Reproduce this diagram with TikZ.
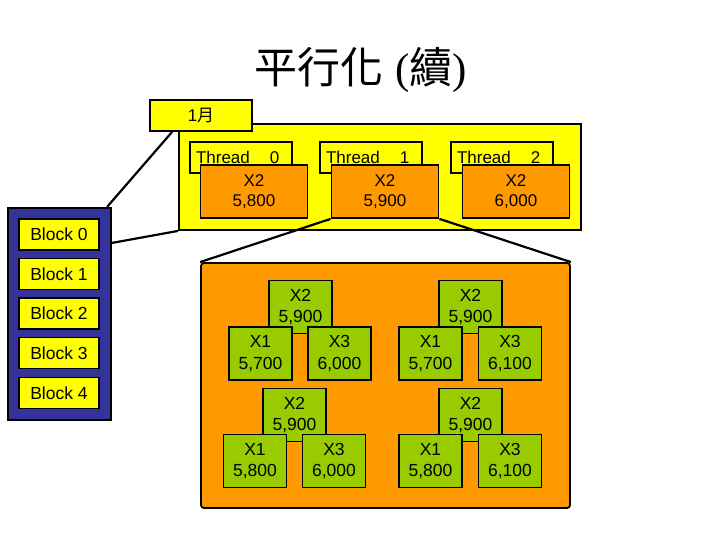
\documentclass[tikz,border=0pt]{standalone}
\usepackage{fontspec}
\setmainfont{Liberation Sans}
\newfontfamily\cjk{Noto Sans CJK TC}
\newfontfamily\serifpar{Liberation Serif}
\definecolor{yel}{RGB}{255,255,0}
\definecolor{org}{RGB}{255,153,0}
\definecolor{grn}{RGB}{153,204,0}
\definecolor{blu}{RGB}{51,51,153}
\begin{document}
\begin{tikzpicture}[x=1pt,y=-1pt,
  box/.style={draw=black, line width=1.8pt, inner sep=0pt, align=center, font=\fontsize{17}{20}\selectfont},
  ybox/.style={box, fill=yel},
  obox/.style={box, fill=org, minimum width=107pt, minimum height=53pt},
  gbox/.style={box, fill=grn, minimum width=63pt, minimum height=53pt, font=\fontsize{17.5}{21.5}\selectfont},
  blockbox/.style={ybox, minimum width=80pt, minimum height=31pt, font=\fontsize{17.5}{20}\selectfont},
  lblbox/.style={ybox, text width=90pt, inner xsep=6pt, minimum height=31pt, align=left},
  conn/.style={draw=black, line width=2.2pt}]
\useasboundingbox (0,0) rectangle (720,540);
% title
\node (title) at (361,70) {\fontsize{43}{46}\selectfont{\cjk 平行化} {\serifpar(}{\cjk 續}{\serifpar)}};
% blocks panel
\node[box, fill=blu, line width=2.2pt, minimum width=103pt, minimum height=212pt] (blk) at (59.5,314) {};
\node[blockbox] (b0) at (59,234.5) {Block 0};
\node[blockbox] (b1) at (59,274) {Block 1};
\node[blockbox] (b2) at (59,313.5) {Block 2};
\node[blockbox] (b3) at (59,353) {Block 3};
\node[blockbox] (b4) at (59,393) {Block 4};
% yellow block
\node[ybox, minimum width=402pt, minimum height=106pt] (yb) at (380,177) {};
\node[ybox, minimum width=102pt, minimum height=31pt] (m) at (201,115.5) {1{\cjk 月}};
\node[lblbox] (l0) at (241,157.5) {Thread\hspace{20pt}0};
\node[lblbox] (l1) at (371,157.5) {Thread\hspace{20pt}1};
\node[lblbox] (l2) at (502,157.5) {Thread\hspace{20pt}2};
\node[obox] (t0) at (254,191.5) {X2\\5,800};
\node[obox] (t1) at (385,191.5) {X2\\5,900};
\node[obox] (t2) at (516,191.5) {X2\\6,000};
% big orange
\node[box, fill=org, rounded corners=3pt, minimum width=369pt, minimum height=245pt] (ob) at (385.5,385.5) {};
% trees
\node[gbox] (a2) at (300.5,307) {X2\\5,900};
\node[gbox] (a1) at (260.5,353.5) {X1\\5,700};
\node[gbox] (a3) at (339.5,353.5) {X3\\6,000};
\node[gbox] (c2) at (470.5,307) {X2\\5,900};
\node[gbox] (c1) at (430.5,353.5) {X1\\5,700};
\node[gbox] (c3) at (510,353.5) {X3\\6,100};
\node[gbox] (d2) at (294.5,415) {X2\\5,900};
\node[gbox] (d1) at (255,461) {X1\\5,800};
\node[gbox] (d3) at (334,461) {X3\\6,000};
\node[gbox] (e2) at (470.5,415) {X2\\5,900};
\node[gbox] (e1) at (430.5,461) {X1\\5,800};
\node[gbox] (e3) at (510,461) {X3\\6,100};
% connectors
\draw[conn] ([xshift=23pt]m.south west) -- ([xshift=-5pt]blk.north east);
\draw[conn] ([yshift=-36pt]blk.north east) -- (yb.south west);
\draw[conn] (t1.south west) -- (ob.north west);
\draw[conn] (t1.south east) -- (ob.north east);
\end{tikzpicture}
\end{document}
